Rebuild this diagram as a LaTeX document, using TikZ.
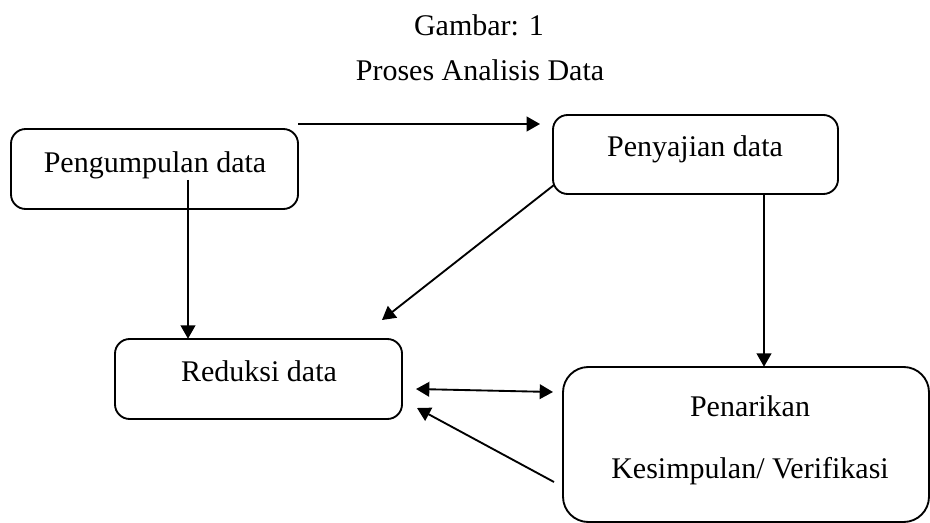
\documentclass[tikz,border=0pt]{standalone}
\usepackage{fontspec}
\setmainfont{Liberation Serif}
\usetikzlibrary{arrows.meta,calc}
\begin{document}
\begin{tikzpicture}[x=0.75pt,y=-0.75pt,
  frame/.style={line width=1.4pt,rounded corners=11pt},
  txt/.style={font=\fontsize{22.5}{27}\selectfont,inner sep=0pt,anchor=base},
  area/.style={inner sep=0pt},
  conn/.style={line width=1.4pt,-{Triangle[length=10pt,width=11pt]}},
  dconn/.style={line width=1.4pt,{Triangle[length=10pt,width=11pt]}-{Triangle[length=10pt,width=11pt]}}]
\useasboundingbox (0,0) rectangle (930,523);
\clip (0,0) rectangle (930,523);
\node[txt] (t1) at (479,35.5) {Gambar: 1};
\node[txt] (t2) at (480,81) {Proses Analisis Data};
% boxes
\draw[frame] (11,129) rectangle (298,209);
\node[area,minimum width=287*0.75pt,minimum height=80*0.75pt] (b1) at (154.5,169) {};
\node[txt] (b1t) at (155,173) {Pengumpulan data};
\draw[frame] (553,115) rectangle (838,194);
\node[area,minimum width=285*0.75pt,minimum height=79*0.75pt] (b2) at (695.5,154.5) {};
\node[txt] (b2t) at (695,157) {Penyajian data};
\draw[frame] (115,339) rectangle (402,419);
\node[area,minimum width=287*0.75pt,minimum height=80*0.75pt] (b3) at (258.5,379) {};
\node[txt] (b3t) at (259,381) {Reduksi data};
\draw[frame,rounded corners=19pt] (563,367) rectangle (929,522);
\node[area,minimum width=366*0.75pt,minimum height=155*0.75pt] (b4) at (746,444.5) {};
\node[txt] (b4a) at (750,416) {Penarikan};
\node[txt] (b4b) at (750,478) {Kesimpulan/ Verifikasi};
% connectors
\coordinate (c1s) at (298,124);
\coordinate (c1e) at (540,124);
\draw[conn] (c1s) -- (c1e);
\coordinate (c2s) at (188,180);
\draw[conn] (c2s) -- (c2s |- b3.north);
\coordinate (c3s) at (554,185);
\coordinate (c3e) at (382,320);
\draw[conn] (c3s) -- (c3e);
\coordinate (c4s) at (764,194);
\draw[conn] (c4s) -- (c4s |- b4.north);
\coordinate (c5a) at (416,389);
\coordinate (c5b) at (553,392);
\draw[dconn] (c5a) -- (c5b);
\coordinate (c6s) at (554,482);
\coordinate (c6e) at (417,408);
\draw[conn] (c6s) -- (c6e);
\end{tikzpicture}
\end{document}
